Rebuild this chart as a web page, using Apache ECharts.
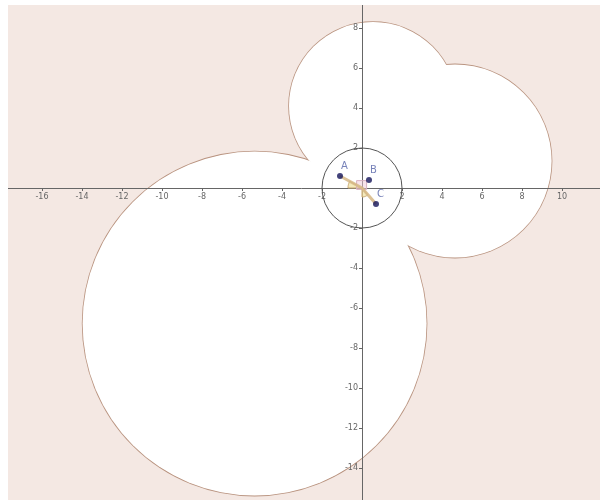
<!DOCTYPE html>
<html>
<head>
<meta charset="utf-8">
<script src="https://cdn.jsdelivr.net/npm/echarts@6/dist/echarts.min.js"></script>
<style>html,body{margin:0;padding:0;background:#fff}#c{width:600px;height:500px}</style>
</head>
<body>
<div id="c"></div>
<script>
// Circles forming the white region: [centerX, centerY, radius]
const regionCircles = [
  [-5.37, -6.78, 8.6],
  [0.55, 4.1, 4.2],
  [4.65, 1.35, 4.83]
];
// Small circle around the origin
const smallCircle = [[0, 0, 2]];
// Points
const pointNames = ['A', 'B', 'C'];
const pointX = [-1.1, 0.35, 0.7];
const pointY = [0.6, 0.4, -0.8];
// Tick labels
const xTickLabels = [-18, -16, -14, -12, -10, -8, -6, -4, -2, 2, 4, 6, 8, 10];
const yTickLabels = [-14, -12, -10, -8, -6, -4, -2, 2, 4, 6, 8];
// Construction: polyline A - O - C
const pathX = [-1.1, 0, 0.7];
const pathY = [0.6, 0, -0.8];

const chart = echarts.init(document.getElementById('c'), null, {renderer: 'canvas'});

function circleItem(stroke) {
  return function (params, api) {
    const c = api.coord([api.value(0), api.value(1)]);
    const r = api.size([api.value(2), 0])[0];
    return {
      type: 'circle',
      shape: {cx: c[0], cy: c[1], r: r},
      style: stroke ? {fill: '#ffffff', stroke: '#b9937f', lineWidth: 1.6}
                    : {fill: '#ffffff', stroke: null, lineWidth: 0}
    };
  };
}

function sectorPoints(api, r, a0, a1) {
  const pts = [api.coord([0, 0])];
  const n = 12;
  for (let i = 0; i <= n; i++) {
    const a = (a0 + (a1 - a0) * i / n) * Math.PI / 180;
    pts.push(api.coord([r * Math.cos(a), r * Math.sin(a)]));
  }
  return pts;
}

const option = {
  animation: false,
  grid: {left: 2, top: -12, width: 600, height: 520, show: true,
         backgroundColor: '#f4e8e3', borderWidth: 0, outerBoundsMode: 'none'},
  xAxis: {
    type: 'value', min: -18, max: 12, interval: 2, z: 10, position: 'bottom', offset: -320,
    axisLine: {onZero: false, lineStyle: {color: '#666', width: 1}},
    axisTick: {show: true, length: 3, lineStyle: {color: '#666'}},
    splitLine: {show: false},
    axisLabel: {fontSize: 8, color: '#666', margin: 5, fontFamily: 'DejaVu Sans',
      showMinLabel: true, showMaxLabel: true, hideOverlap: false,
      formatter: v => xTickLabels.includes(v) ? String(v) : ''}
  },
  yAxis: {
    type: 'value', min: -16, max: 10, interval: 2, z: 10, position: 'left', offset: -360,
    axisLine: {onZero: false, lineStyle: {color: '#666', width: 1}},
    axisTick: {show: true, length: 3, lineStyle: {color: '#666'}},
    splitLine: {show: false},
    axisLabel: {fontSize: 8, color: '#666', margin: 4, fontFamily: 'DejaVu Sans',
      showMinLabel: true, showMaxLabel: true, hideOverlap: false,
      formatter: v => yTickLabels.includes(v) ? String(v) : ''}
  },
  graphic: [
    {type: 'rect', shape: {x: 0, y: 0, width: 8, height: 500}, style: {fill: '#ffffff'}, z: 100},
    {type: 'rect', shape: {x: 0, y: 0, width: 600, height: 5}, style: {fill: '#ffffff'}, z: 100}
  ],
  series: [
    {type: 'custom', z: 1, silent: true, renderItem: circleItem(true), data: regionCircles, clip: false},
    {type: 'custom', z: 2, silent: true, renderItem: circleItem(false), data: regionCircles, clip: false},
    {type: 'custom', z: 20, silent: true, data: smallCircle, clip: false,
      renderItem: function (params, api) {
        const c = api.coord([api.value(0), api.value(1)]);
        const r = api.size([api.value(2), 0])[0];
        return {type: 'circle', shape: {cx: c[0], cy: c[1], r: r},
                style: {fill: null, stroke: '#555', lineWidth: 1}};
      }},
    {type: 'custom', z: 21, silent: true, data: [[0, 0]], clip: false,
      renderItem: function (params, api) {
        const pts = pathX.map((x, i) => api.coord([x, pathY[i]]));
        const aA = Math.atan2(pathY[0], pathX[0]) * 180 / Math.PI;
        const aC = Math.atan2(pathY[2], pathX[2]) * 180 / Math.PI;
        return {type: 'group', children: [
          {type: 'polygon', shape: {points: sectorPoints(api, 0.7, aA, 180)},
           style: {fill: 'rgba(240,225,160,0.7)', stroke: '#c9a76e', lineWidth: 1}},
          {type: 'polygon', shape: {points: sectorPoints(api, 0.45, -90, aC)},
           style: {fill: 'rgba(240,225,160,0.7)', stroke: '#c9a76e', lineWidth: 1}},
          {type: 'rect', shape: (function () {
              const p0 = api.coord([-0.27, 0.37]); const p1 = api.coord([0.23, -0.07]);
              return {x: p0[0], y: p0[1], width: p1[0] - p0[0], height: p1[1] - p0[1]};
            })(),
           style: {fill: 'rgba(240,200,215,0.5)', stroke: '#d8b0c0', lineWidth: 1}},
          {type: 'polyline', shape: {points: pts},
           style: {fill: null, stroke: '#d6b785', lineWidth: 3, opacity: 0.85}}
        ]};
      }},
    {type: 'scatter', z: 30, symbolSize: 6, silent: true,
      itemStyle: {color: '#14145a'},
      data: pointNames.map((n, i) => ({name: n, value: [pointX[i], pointY[i]]})),
      label: {show: true, formatter: '{b}', position: [4, -12], fontSize: 10,
              color: '#5563a8', fontFamily: 'DejaVu Sans'}}
  ]
};
chart.setOption(option);
</script>
</body>
</html>
